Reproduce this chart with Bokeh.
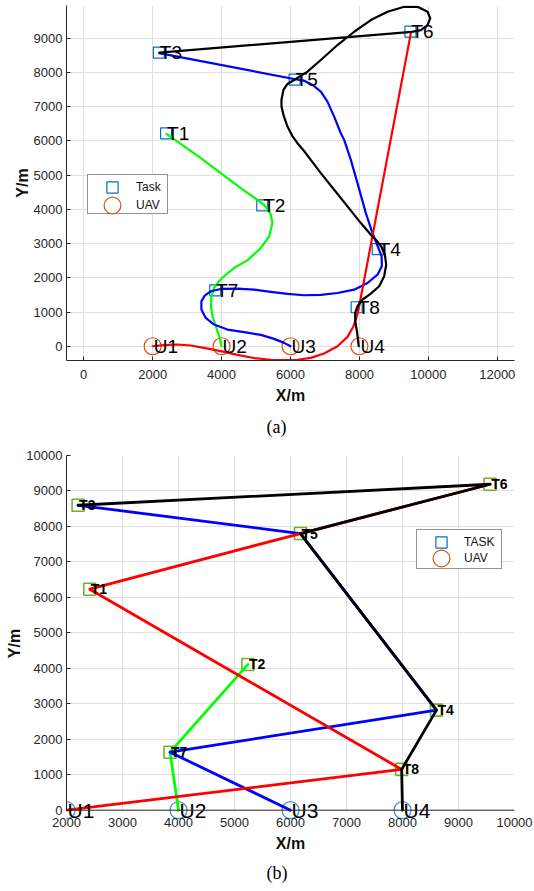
from bokeh.plotting import figure
from bokeh.models import (Range1d, FixedTicker, Legend, LegendItem, Title,
                          ColumnDataSource, BoxAnnotation, Span)
from bokeh.layouts import column
from bokeh.embed import file_html
from bokeh.resources import INLINE
from bokeh.core.properties import value

# ---------------- data ----------------
task_names = ["T1", "T2", "T3", "T4", "T5", "T6", "T7", "T8"]
uav_names = ["U1", "U2", "U3", "U4"]
uav_x = [2000, 4000, 6000, 8000]
uav_y = [0, 0, 0, 0]

# (a) task positions
task_x_a = [2390, 5180, 2180, 8530, 6120, 9480, 3815, 7920]
task_y_a = [6220, 4115, 8585, 2840, 7795, 9195, 1635, 1140]

# (a) smooth trajectories
red_x_a = [2000, 2330, 2717, 3104, 3491, 3975, 4459, 4943, 5427, 5815, 6202, 6589,
           6976, 7363, 7654, 7828, 7925, 7993, 9500]
red_y_a = [0, 30, 50, 21, -48, -145, -252, -345, -395, -405, -395, -340,
           -213, 1, 273, 585, 877, 1169, 9190]
green_x_a = [4000, 3930, 3830, 3735, 3690, 3705, 3780, 3925, 4120, 4380, 4750, 5137,
             5380, 5476, 5430, 5350, 5230, 5040, 4556, 3976, 3395, 2814, 2400]
green_y_a = [0, 290, 585, 877, 1170, 1460, 1700, 1900, 2090, 2300, 2510, 2871,
             3210, 3600, 3840, 3990, 4130, 4280, 4622, 5059, 5497, 5915, 6210]
blue_x_a = [6000, 5815, 5524, 5137, 4653, 4169, 3782, 3540, 3414, 3414, 3511, 3685,
            3975, 4459, 4943, 5427, 5911, 6395, 6879, 7363, 7847, 8234, 8525, 8650,
            8645, 8540, 8380, 8186, 7944, 7751, 7557, 7460, 7267, 7073, 6880, 6638,
            6396, 6140, 2190]
blue_y_a = [0, 98, 215, 332, 410, 488, 634, 828, 1071, 1314, 1480, 1606,
            1674, 1684, 1654, 1587, 1528, 1490, 1499, 1557, 1654, 1849, 2092, 2336,
            2627, 2900, 3308, 3892, 4767, 5448, 6032, 6226, 6713, 7150, 7442, 7637,
            7763, 7805, 8570]
black_x_a = [7980, 7935, 7880, 7876, 7944, 8089, 8331, 8573, 8718, 8777, 8738, 8640,
             8477, 8332, 8041, 7654, 7267, 6880, 6589, 6400, 6202, 6050, 5912, 5800,
             5740, 5737, 5795, 5912, 6140, 6492, 6880, 7364, 7848, 8332, 8816, 9300,
             9687, 9977, 10055, 9977, 9784, 9520, 2200]
black_y_a = [0, 390, 731, 974, 1168, 1363, 1538, 1752, 2044, 2384, 2676, 2900,
             3114, 3260, 3600, 4087, 4573, 5059, 5448, 5700, 5934, 6150, 6421, 6750,
             7000, 7199, 7491, 7666, 7805, 8026, 8366, 8804, 9193, 9533, 9777, 9922,
             9922, 9777, 9582, 9388, 9242, 9190, 8585]

# (b) task positions
task_x_b = [2415, 5240, 2207, 8607, 6178, 9565, 3849, 7985]
task_y_b = [6230, 4110, 8597, 2822, 7800, 9190, 1636, 1150]

# (b) straight-line routes
route_red_b = ["U1", "T8", "T1", "T5", "T6"]
route_green_b = ["U2", "T7", "T2"]
route_blue_b = ["U3", "T7", "T4", "T5", "T3"]
route_black_b = ["U4", "T8", "T4", "T5", "T6", "T3"]

x_ticks_a = [0, 2000, 4000, 6000, 8000, 10000, 12000]
y_ticks_a = [0, 1000, 2000, 3000, 4000, 5000, 6000, 7000, 8000, 9000]
x_ticks_b = [2000, 3000, 4000, 5000, 6000, 7000, 8000, 9000, 10000]
y_ticks_b = [0, 1000, 2000, 3000, 4000, 5000, 6000, 7000, 8000, 9000, 10000]

FONT = "Liberation Sans"
AXC = "#262626"


def style(p, xt, yt):
    p.outline_line_color = None
    p.background_fill_color = "white"
    p.xaxis.ticker = FixedTicker(ticks=xt)
    p.yaxis.ticker = FixedTicker(ticks=yt)
    for ax in (p.xaxis[0], p.yaxis[0]):
        ax.axis_line_color = AXC
        ax.axis_line_width = 1
        ax.major_tick_line_color = AXC
        ax.major_tick_in = 4
        ax.major_tick_out = 0
        ax.minor_tick_line_color = None
        ax.major_label_text_font = FONT
        ax.major_label_text_font_size = "13px"
        ax.major_label_text_color = AXC
        ax.axis_label_text_font = FONT
        ax.axis_label_text_font_size = "16px"
        ax.axis_label_text_font_style = "bold"
        ax.axis_label_text_color = "#111111"
    p.xaxis.major_label_standoff = 9
    p.yaxis.major_label_standoff = 4
    p.xaxis.axis_label_standoff = 5
    p.yaxis.axis_label_standoff = 0
    p.xaxis.axis_label = "X/m"
    p.yaxis.axis_label = "Y/m"
    p.xgrid.grid_line_color = "#dfdfdf"
    p.ygrid.grid_line_color = "#dfdfdf"


def legends(p, r_task, r_uav, r_dummy, task_lbl, uav_lbl, box, task_c, uav_c, lab_x):
    bx, by, bw, bh = box
    box_leg = Legend(items=[LegendItem(label=" ", renderers=[r_dummy])],
                     location=(bx, by), padding=0, spacing=0, margin=0,
                     glyph_width=1, glyph_height=bh, label_height=bh,
                     label_width=bw - 1, label_standoff=0,
                     border_line_color=AXC, border_line_width=1,
                     background_fill_color="white", background_fill_alpha=1.0,
                     label_text_font_size="1px")
    p.add_layout(box_leg)
    for rend, lbl, (cx, cy), gh in ((r_task, task_lbl, task_c, 28), (r_uav, uav_lbl, uav_c, 42)):
        gw = 46
        lg = Legend(items=[LegendItem(label=lbl, renderers=[rend])],
                    location=(int(round(cx - gw / 2)), int(round(cy - gh / 2))),
                    padding=0, spacing=0, margin=0,
                    glyph_width=gw, glyph_height=gh, label_height=gh,
                    label_standoff=max(0, int(round(lab_x - (cx + gw / 2)))),
                    border_line_alpha=0, background_fill_alpha=0,
                    inactive_fill_alpha=0,
                    label_text_font=FONT, label_text_font_size="12px",
                    label_text_color="#111111")
        p.add_layout(lg)


def cap(txt, standoff):
    return Title(text=txt, align="left", offset=200, standoff=standoff,
                 text_font="Liberation Serif", text_font_size="18px",
                 text_font_style="normal", text_color="black")


# ---------------- figure (a) ----------------
pa = figure(width=534, height=445, x_range=Range1d(-500, 12500), y_range=Range1d(-417, 9960),
            output_backend="svg", toolbar_location=None,
            min_border_left=66, min_border_right=20, min_border_top=5, min_border_bottom=84,
            title=cap("(a)", 17), title_location="below")
style(pa, x_ticks_a, y_ticks_a)

ra_task = pa.scatter(task_x_a, task_y_a, marker="square", size=11, fill_color=None,
                     line_color="#0072BD", line_width=1.2)
ra_uav = pa.scatter(uav_x, uav_y, marker="circle", size=17, fill_color=None,
                    line_color="#D95319", line_width=1.2)
for xs, ys, c in ((green_x_a, green_y_a, "#00FF00"), (blue_x_a, blue_y_a, "#0000FF"),
                  (red_x_a, red_y_a, "#FF0000"), (black_x_a, black_y_a, "#000000")):
    pa.line(xs, ys, line_color=c, line_width=2.2, line_join="round", line_cap="round")

src_ta = ColumnDataSource(dict(x=task_x_a, y=task_y_a, t=task_names))
src_ua = ColumnDataSource(dict(x=uav_x, y=uav_y, t=uav_names))
ra_txt = pa.text("x", "y", text="t", source=src_ta, text_font=value(FONT),
                 text_font_size="19px", text_align="left", text_baseline="middle",
                 x_offset=1, text_color="black")
pa.text("x", "y", text="t", source=src_ua, text_font=value(FONT),
        text_font_size="19px", text_align="left", text_baseline="middle",
        x_offset=1, text_color="black")
legends(pa, ra_task, ra_uav, ra_txt, "Task", "UAV",
        (21, 146, 79, 38), (46, 173), (46, 155), 70)

# ---------------- figure (b) ----------------
# the frame reaches a little below y=0 so that the UAV markers/labels are not cut;
# the x axis line is drawn at y=0 and its labels are pulled up next to it
pb = figure(width=534, height=446, x_range=Range1d(2000, 10000), y_range=Range1d(-600, 10000),
            output_backend="svg", toolbar_location=None,
            min_border_left=66, min_border_right=18, min_border_top=10, min_border_bottom=60,
            title=cap("(b)", 13), title_location="below")
style(pb, x_ticks_b, y_ticks_b)
pb.xaxis.axis_line_color = None
pb.xaxis.major_tick_line_color = None
pb.xaxis.major_label_standoff = -14
pb.xaxis.axis_label_standoff = 5
pb.yaxis.bounds = (0, 10000)
pb.add_layout(BoxAnnotation(top=0, fill_color="white", fill_alpha=1.0, line_alpha=0,
                            level="underlay"))
pb.add_layout(Span(location=0, dimension="width", line_color=AXC, line_width=1))

pos_b = {n: (x, y) for n, x, y in zip(task_names, task_x_b, task_y_b)}
pos_b.update({n: (x, y) for n, x, y in zip(uav_names, uav_x, uav_y)})

src_tb = ColumnDataSource(dict(x=task_x_b, y=task_y_b, t=task_names))
src_ub = ColumnDataSource(dict(x=uav_x, y=uav_y, t=uav_names))

rb_task = pb.scatter("x", "y", source=src_tb, marker="square", size=12, fill_color=None,
                     line_color="#77AC30", line_width=1.6)
rb_uav = pb.scatter("x", "y", source=src_ub, marker="circle", size=17, fill_color=None,
                    line_color="#4A90D0", line_width=1.2)
for route, c in ((route_green_b, "#00FF00"), (route_blue_b, "#0000FF"),
                 (route_red_b, "#FF0000"), (route_black_b, "#000000")):
    pb.line([pos_b[n][0] for n in route], [pos_b[n][1] for n in route],
            line_color=c, line_width=2.8, line_join="round", line_cap="round")

rb_txt = pb.text("x", "y", text="t", source=src_tb, text_font=value(FONT),
                 text_font_size="14px", text_font_style="bold", text_align="left",
                 text_baseline="middle", x_offset=1, text_color="black")
pb.text("x", "y", text="t", source=src_ub, text_font=value(FONT),
        text_font_size="21px", text_align="left", text_baseline="middle",
        x_offset=1, text_color="black")
# legend (b): the reference legend shows the default marker colours
leg_task_b = pb.scatter("x", "y", source=src_tb, marker="square", size=12,
                        fill_color=None, line_color="#0072BD", line_width=1.2, visible=False)
leg_uav_b = pb.scatter("x", "y", source=src_ub, marker="circle", size=17,
                       fill_color=None, line_color="#D95319", line_width=1.2, visible=False)
legends(pb, leg_task_b, leg_uav_b, rb_txt, "TASK", "UAV",
        (350, 262, 84, 38), (375, 289), (375, 273), 398)

layout = column(pa, pb, spacing=0)
open("out.html", "w").write(file_html(layout, INLINE))
